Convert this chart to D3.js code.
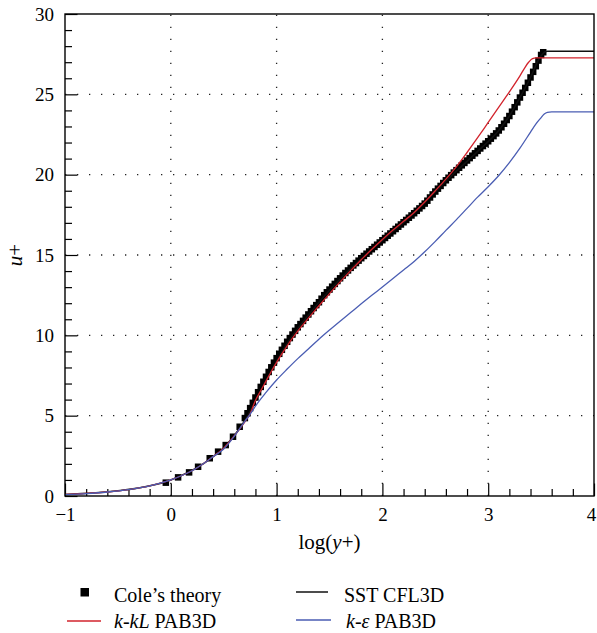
<!DOCTYPE html>
<html>
<head>
<meta charset="utf-8">
<script src="https://cdn.jsdelivr.net/npm/d3@7"></script>
<style>
  html, body { margin: 0; padding: 0; background: #fff; }
  svg { display: block; font-family: "Liberation Serif", "Times New Roman", serif; }
</style>
</head>
<body>
<svg id="chart" width="597" height="633"></svg>
<script>
// Cole's law-of-the-wall profile (log10 y+, u+)
const coleX = [-0.047, 0.069, 0.173, 0.258, 0.368, 0.447, 0.519, 0.588, 0.651,
  0.700, 0.725, 0.750, 0.775, 0.800, 0.825, 0.850, 0.875, 0.900, 0.925, 0.950, 0.975,
  1.000, 1.025, 1.050, 1.075, 1.100, 1.125, 1.150, 1.175, 1.200, 1.225, 1.250, 1.275,
  1.300, 1.325, 1.350, 1.375, 1.400, 1.425, 1.450, 1.475, 1.500, 1.525, 1.550, 1.575,
  1.600, 1.625, 1.650, 1.675, 1.700, 1.725, 1.750, 1.775, 1.800, 1.825, 1.850, 1.875,
  1.900, 1.925, 1.950, 1.975, 2.000, 2.025, 2.050, 2.075, 2.100, 2.125, 2.150, 2.175,
  2.200, 2.225, 2.250, 2.275, 2.300, 2.325, 2.350, 2.375, 2.400, 2.425, 2.450, 2.475,
  2.500, 2.525, 2.550, 2.575, 2.600, 2.625, 2.650, 2.675, 2.700, 2.725, 2.750, 2.775,
  2.800, 2.825, 2.850, 2.875, 2.900, 2.925, 2.950, 2.975, 3.000, 3.025, 3.050, 3.075,
  3.100, 3.125, 3.150, 3.175, 3.200, 3.225, 3.250, 3.275, 3.300, 3.325, 3.350, 3.375,
  3.400, 3.425, 3.450, 3.475, 3.500, 3.520];
const coleU = [0.83, 1.16, 1.47, 1.82, 2.35, 2.76, 3.17, 3.69, 4.31,
  4.85, 5.15, 5.47, 5.80, 6.13, 6.46, 6.79, 7.11, 7.42, 7.72, 8.01, 8.30,
  8.58, 8.85, 9.10, 9.35, 9.60, 9.83, 10.05, 10.28, 10.50, 10.70, 10.90, 11.10,
  11.30, 11.50, 11.70, 11.88, 12.06, 12.28, 12.50, 12.68, 12.85, 13.03, 13.20, 13.38,
  13.55, 13.72, 13.88, 14.04, 14.20, 14.35, 14.50, 14.65, 14.80, 14.94, 15.08, 15.22,
  15.36, 15.50, 15.64, 15.78, 15.92, 16.06, 16.20, 16.34, 16.48, 16.62, 16.76, 16.90,
  17.04, 17.18, 17.32, 17.46, 17.60, 17.75, 17.90, 18.05, 18.20, 18.38, 18.58, 18.77,
  18.95, 19.13, 19.30, 19.48, 19.65, 19.81, 19.97, 20.13, 20.28, 20.43, 20.58, 20.73,
  20.88, 21.03, 21.18, 21.33, 21.48, 21.63, 21.78, 21.93, 22.08, 22.24, 22.40, 22.57,
  22.75, 22.95, 23.17, 23.40, 23.65, 23.92, 24.20, 24.50, 24.80, 25.10, 25.40, 25.72,
  26.05, 26.40, 26.75, 27.10, 27.45, 27.62];

// SST CFL3D
const sstX = [-1.0, -0.5, 0.0, 0.3, 0.5, 0.7, 0.9, 1.1, 1.3, 1.5, 1.7, 2.0, 2.3, 2.6, 2.9,
  3.1, 3.2, 3.3, 3.4, 3.48, 3.53, 3.56, 4.0];
const sstU = [0.10, 0.32, 1.00, 1.98, 3.00, 4.70, 7.20, 9.50, 11.25, 12.80, 14.15, 15.90, 17.60, 19.60, 21.45,
  22.75, 23.65, 24.80, 26.05, 27.20, 27.62, 27.68, 27.68];

// k-kL PAB3D
const kklX = [-1.0, -0.8, -0.6, -0.4, -0.2, 0.0, 0.1, 0.2, 0.3, 0.4, 0.5, 0.6, 0.7, 0.75,
  0.80, 0.85, 0.90, 0.95, 1.00, 1.05, 1.10, 1.15, 1.20, 1.25, 1.30, 1.35, 1.40, 1.45,
  1.50, 1.55, 1.60, 1.70, 1.80, 1.90, 2.00, 2.10, 2.20, 2.30, 2.40, 2.50, 2.60, 2.70,
  2.80, 2.90, 3.00, 3.10, 3.20, 3.30, 3.35, 3.38, 3.40, 3.42, 3.45, 4.0];
const kklU = [0.10, 0.16, 0.25, 0.40, 0.63, 1.00, 1.26, 1.57, 1.98, 2.46, 2.98, 3.74, 4.62, 5.12,
  5.95, 6.55, 7.15, 7.75, 8.32, 8.85, 9.35, 9.82, 10.26, 10.67, 11.07, 11.46, 11.84, 12.22,
  12.60, 12.97, 13.33, 14.03, 14.70, 15.36, 15.97, 16.55, 17.10, 17.65, 18.30, 19.00, 19.72, 20.50,
  21.38, 22.30, 23.25, 24.20, 25.15, 26.15, 26.70, 26.98, 27.13, 27.22, 27.27, 27.27];

// k-epsilon PAB3D
const keX = [-1.0, -0.8, -0.6, -0.4, -0.2, 0.0, 0.1, 0.2, 0.3, 0.4, 0.5, 0.6, 0.7, 0.75,
  0.80, 0.90, 1.00, 1.10, 1.20, 1.30, 1.40, 1.50, 1.60, 1.70, 1.80, 1.90, 2.00, 2.10,
  2.20, 2.30, 2.40, 2.50, 2.60, 2.70, 2.80, 2.90, 3.00, 3.10, 3.20, 3.30, 3.40, 3.45,
  3.50, 3.53, 3.56, 3.60, 4.0];
const keU = [0.08, 0.15, 0.25, 0.40, 0.63, 1.00, 1.26, 1.57, 1.98, 2.45, 2.93, 3.72, 4.65, 5.10,
  5.60, 6.45, 7.22, 7.90, 8.55, 9.15, 9.76, 10.33, 10.88, 11.42, 11.96, 12.49, 13.01, 13.54,
  14.07, 14.60, 15.20, 15.85, 16.53, 17.20, 17.90, 18.60, 19.25, 19.95, 20.75, 21.65, 22.65, 23.15,
  23.55, 23.78, 23.88, 23.91, 23.91];

const xTicksMajor = [-1, 0, 1, 2, 3, 4];
const yTicksMajor = [0, 5, 10, 15, 20, 25, 30];

const svg = d3.select("#chart");
const L = 65, R = 594, T = 14, B = 496;

const x = d3.scaleLinear().domain([-1, 4]).range([L, R]);
const y = d3.scaleLinear().domain([0, 30]).range([B, T]);

// dotted grid lines at interior major ticks
const grid = svg.append("g").attr("stroke", "#222").attr("stroke-width", 1.3)
  .attr("stroke-dasharray", "1.3 10.7").attr("fill", "none");
grid.selectAll("line.v").data(xTicksMajor.filter(d => d > -1 && d < 4)).join("line")
  .attr("x1", d => x(d)).attr("x2", d => x(d)).attr("y1", B).attr("y2", T);
grid.selectAll("line.h").data(yTicksMajor.filter(d => d > 0 && d < 30)).join("line")
  .attr("y1", d => y(d)).attr("y2", d => y(d)).attr("x1", L).attr("x2", R);

// axes: inward ticks, minor and major
const minorX = d3.range(-1, 4.0001, 0.2).filter(v => Math.abs(v - Math.round(v)) > 1e-6);
const minorY = d3.range(0, 30.0001, 1).filter(v => v % 5 !== 0);

const ax = svg.append("g").attr("transform", `translate(0,${B})`)
  .call(d3.axisBottom(x).tickValues(xTicksMajor).tickSize(-12.5).tickPadding(11.5)
    .tickFormat(d3.format("d")));
const axm = svg.append("g").attr("transform", `translate(0,${B})`)
  .call(d3.axisBottom(x).tickValues(minorX).tickSize(-7).tickFormat(""));
const ay = svg.append("g").attr("transform", `translate(${L},0)`)
  .call(d3.axisLeft(y).tickValues(yTicksMajor).tickSize(-12.5).tickPadding(11)
    .tickFormat(d3.format("d")));
const aym = svg.append("g").attr("transform", `translate(${L},0)`)
  .call(d3.axisLeft(y).tickValues(minorY).tickSize(-7).tickFormat(""));

[ax, axm, ay, aym].forEach(g => {
  g.select(".domain").remove();
  g.selectAll(".tick line").attr("stroke", "#000").attr("stroke-width", 1.2);
  g.selectAll("text").attr("fill", "#000").style("font-size", "19px")
    .style("font-family", '"Liberation Serif", serif');
});
// keep the last x label inside the page edge
ax.selectAll(".tick").filter(d => d === 4).select("text").attr("dx", "-3");

// series
const pts = (xs, ys) => xs.map((v, i) => [v, ys[i]]);
const line = d3.line().x(d => x(d[0])).y(d => y(d[1])).curve(d3.curveMonotoneX);
const sq = 6.5;

svg.append("g").selectAll("rect").data(pts(coleX, coleU)).join("rect")
  .attr("x", d => x(d[0]) - sq / 2).attr("y", d => y(d[1]) - sq / 2)
  .attr("width", sq).attr("height", sq).attr("fill", "#000");

svg.append("path").datum(pts(sstX, sstU)).attr("d", line)
  .attr("fill", "none").attr("stroke", "#111").attr("stroke-width", 1.5);
svg.append("path").datum(pts(kklX, kklU)).attr("d", line)
  .attr("fill", "none").attr("stroke", "#d2232c").attr("stroke-width", 1.3);
svg.append("path").datum(pts(keX, keU)).attr("d", line)
  .attr("fill", "none").attr("stroke", "#4a5db3").attr("stroke-width", 1.3);

// frame
svg.append("rect").attr("x", L).attr("y", T).attr("width", R - L).attr("height", B - T)
  .attr("fill", "none").attr("stroke", "#000").attr("stroke-width", 1.4);

// axis titles
const xt = svg.append("text").attr("x", (L + R) / 2).attr("y", 549)
  .attr("text-anchor", "middle").style("font-size", "21px");
xt.append("tspan").text("log(");
xt.append("tspan").attr("font-style", "italic").text("y");
xt.append("tspan").text("+)");

const yt = svg.append("text").attr("transform", `translate(22,${(T + B) / 2}) rotate(-90)`)
  .attr("text-anchor", "middle").style("font-size", "21px");
yt.append("tspan").attr("font-style", "italic").text("u");
yt.append("tspan").text("+");

// legend
const lg = svg.append("g").style("font-size", "20px");
lg.append("rect").attr("x", 80.5).attr("y", 588).attr("width", 8.5).attr("height", 8.5).attr("fill", "#000");
lg.append("text").attr("x", 114).attr("y", 602).text("Cole\u2019s theory");

lg.append("line").attr("x1", 67).attr("x2", 101).attr("y1", 621).attr("y2", 621)
  .attr("stroke", "#d2232c").attr("stroke-width", 1.3);
const t2 = lg.append("text").attr("x", 114).attr("y", 628);
t2.append("tspan").attr("font-style", "italic").text("k");
t2.append("tspan").text("-");
t2.append("tspan").attr("font-style", "italic").text("kL");
t2.append("tspan").text(" PAB3D");

lg.append("line").attr("x1", 296).attr("x2", 328).attr("y1", 592).attr("y2", 592)
  .attr("stroke", "#111").attr("stroke-width", 1.5);
lg.append("text").attr("x", 344).attr("y", 602).text("SST CFL3D");

lg.append("line").attr("x1", 296).attr("x2", 331).attr("y1", 620).attr("y2", 620)
  .attr("stroke", "#4a5db3").attr("stroke-width", 1.3);
const t4 = lg.append("text").attr("x", 346).attr("y", 628);
t4.append("tspan").attr("font-style", "italic").text("k");
t4.append("tspan").text("-");
t4.append("tspan").attr("font-style", "italic").text("\u03b5");
t4.append("tspan").text(" PAB3D");
</script>
</body>
</html>
